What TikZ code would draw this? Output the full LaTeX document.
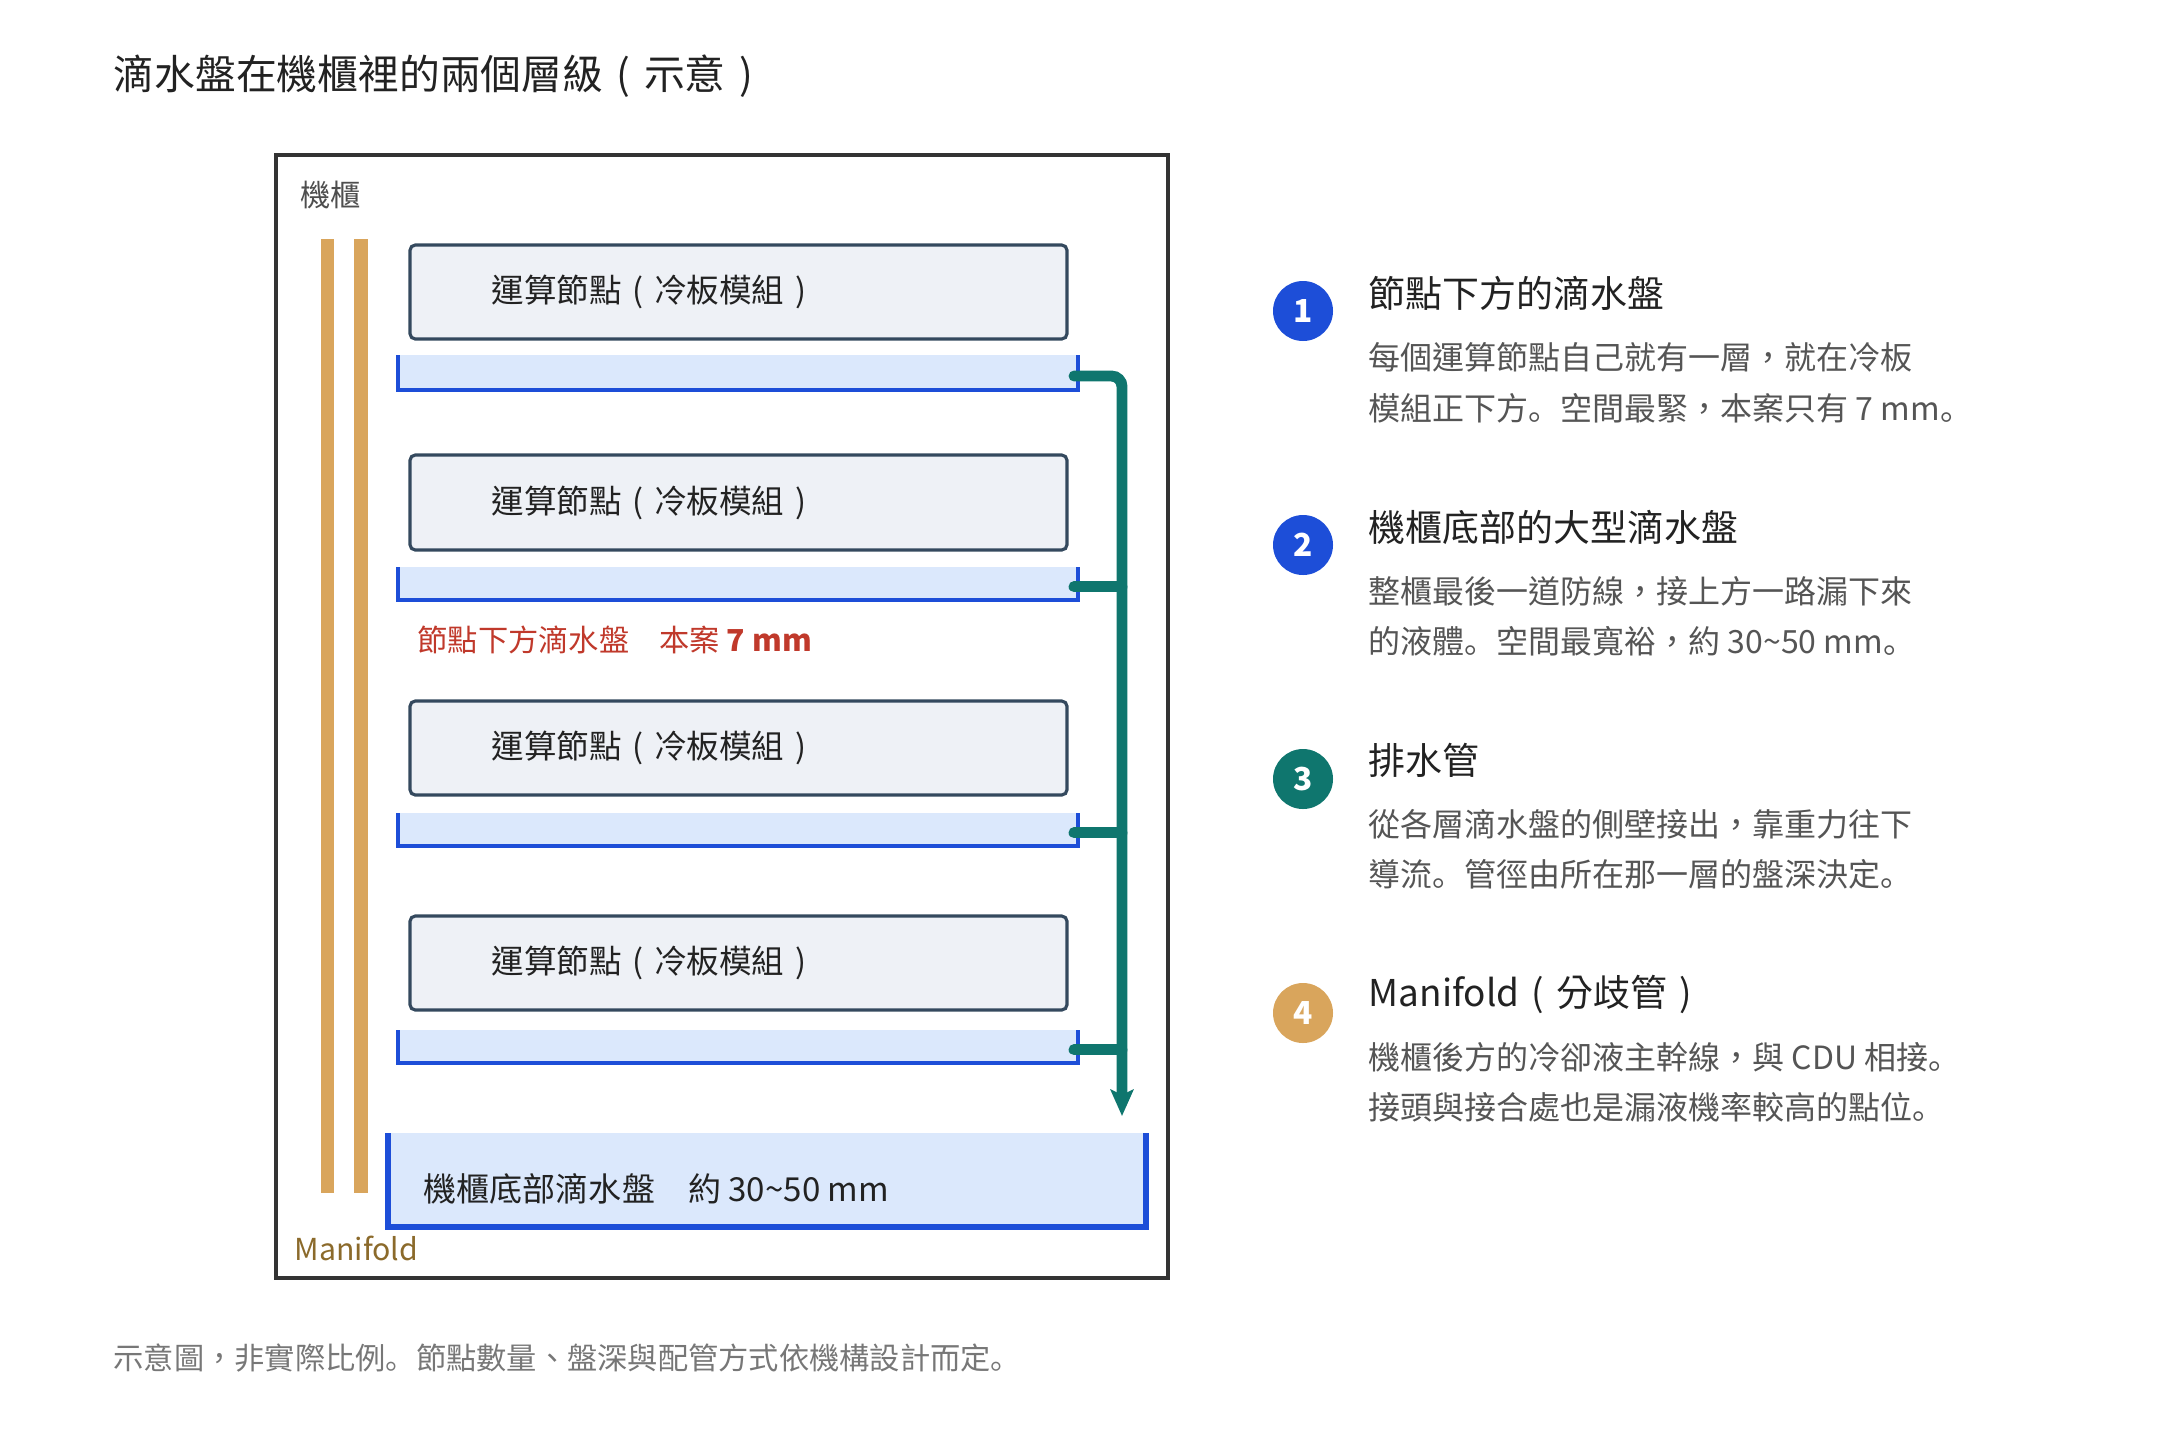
\documentclass[tikz,border=0pt]{standalone}
\usepackage{fontspec}
\setmainfont{Noto Sans CJK TC}
\newfontfamily\scfont{Noto Sans CJK SC}
\newcommand{\pd}{{\scfont 。}}
\newcommand{\lp}{\makebox[1em]{(}}
\newcommand{\rp}{\makebox[1em]{)}}
\usetikzlibrary{arrows.meta}
\definecolor{cabinet}{HTML}{333333}
\definecolor{nodefill}{HTML}{EEF1F6}
\definecolor{nodeline}{HTML}{34495E}
\definecolor{trayfill}{HTML}{DBE8FC}
\definecolor{trayline}{HTML}{1D4ED8}
\definecolor{drain}{HTML}{0F766E}
\definecolor{manif}{HTML}{D9A55C}
\definecolor{maniftext}{HTML}{8B6A2B}
\definecolor{redtext}{HTML}{C0392B}
\definecolor{darktext}{HTML}{222222}
\definecolor{bodytext}{HTML}{555555}
\definecolor{foot}{HTML}{777777}
\tikzset{
  x=0.01cm, y=-0.01cm,
  txt/.style={anchor=west, inner sep=0pt, text=darktext},
  computebox/.style={draw=nodeline, fill=nodefill, line width=0.9pt, rounded corners=1.5pt},
  traywall/.style={draw=trayline, line width=1.4pt},
  pipe/.style={draw=drain, line width=3.1pt, line cap=round},
  badge/.style={circle, minimum size=60*0.01cm, inner sep=0pt, text=white, font=\fontsize{9pt}{10pt}\selectfont\bfseries},
  head/.style={txt, font=\fontsize{10.5pt}{12pt}\selectfont},
  body/.style={txt, text=bodytext, font=\fontsize{9.1pt}{11pt}\selectfont},
}
\begin{document}
\begin{tikzpicture}
\useasboundingbox (0,0) rectangle (2167,1445);
% title
\node[txt, font=\fontsize{11.6pt}{13pt}\selectfont] (title) at (113,76) {滴水盤在機櫃裡的兩個層級\lp 示意\rp};
% cabinet
\draw[cabinet, line width=1.4pt] (276,155) rectangle (1168,1278);
\node[txt, text=darktext!80, font=\fontsize{8.6pt}{10pt}\selectfont] (cablabel) at (300,195) {機櫃};
% manifold bars
\fill[manif] (321,239) rectangle (334,1193);
\fill[manif] (354,239) rectangle (368,1193);
\node[txt, text=maniftext, font=\fontsize{8.6pt}{10pt}\selectfont] (maniflabel) at (294,1248) {Manifold};
% compute nodes
\foreach \t/\b [count=\i] in {245/339, 455/550, 701/795, 916/1010}{
  \draw[computebox] (410,\t) rectangle (1067,\b);
  \node[txt, font=\fontsize{9.25pt}{11pt}\selectfont] (node\i) at (491,{(\t+\b)/2}) {運算節點\lp 冷板模組\rp};
}
% trays
\foreach \t/\b [count=\i] in {355/390, 567/600, 813/846, 1030/1063}{
  \fill[trayfill] (398,\t) rectangle (1078,\b);
  \draw[traywall] (398,\t) -- (398,\b) -- (1078,\b) -- (1078,\t);
  \coordinate (tray\i) at (1074,{\t+0.6*(\b-\t)});
}
\node[txt, text=redtext, font=\fontsize{8.6pt}{10pt}\selectfont] (redlabel) at (417,640) {節點下方滴水盤　本案 \textbf{7 mm}};
% bottom tray
\fill[trayfill] (388,1133) rectangle (1146,1227);
\draw[trayline, line width=1.7pt] (388,1133) -- (388,1227) -- (1146,1227) -- (1146,1133);
\node[txt, font=\fontsize{9.4pt}{11pt}\selectfont] (bottomlabel) at (423,1189) {機櫃底部滴水盤　約 30\textasciitilde 50 mm};
% drain pipe
\coordinate (pipetop) at (1122,376);
\coordinate (pipeend) at (1122,1116);
\draw[pipe, rounded corners=3pt, -{Stealth[length=7.5pt, width=6.5pt, inset=1.5pt]}] (tray1) -- (tray1 -| pipetop) -- (pipeend);
\foreach \i in {2,3,4}{
  \draw[pipe] (tray\i) -- (tray\i -| pipetop);
}
% right list
\node[badge, fill=trayline] (b1) at (1303,311) {1};
\node[badge, fill=trayline] (b2) at (1303,545) {2};
\node[badge, fill=drain] (b3) at (1303,779) {3};
\node[badge, fill=manif] (b4) at (1303,1013) {4};
\node[head] (h1) at (1368,293) {節點下方的滴水盤};
\node[body] (p1a) at (1368,357) {每個運算節點自己就有一層，就在冷板};
\node[body] (p1b) at (1368,408) {模組正下方\pd 空間最緊，本案只有 7 mm\pd};
\node[head] (h2) at (1368,527) {機櫃底部的大型滴水盤};
\node[body] (p2a) at (1368,591) {整櫃最後一道防線，接上方一路漏下來};
\node[body] (p2b) at (1368,641) {的液體\pd 空間最寬裕，約 30\textasciitilde 50 mm\pd};
\node[head] (h3) at (1368,760) {排水管};
\node[body] (p3a) at (1368,824) {從各層滴水盤的側壁接出，靠重力往下};
\node[body] (p3b) at (1368,874) {導流\pd 管徑由所在那一層的盤深決定\pd};
\node[head] (h4) at (1368,994) {Manifold\lp 分歧管\rp};
\node[body] (p4a) at (1368,1057) {機櫃後方的冷卻液主幹線，與 CDU 相接\pd};
\node[body] (p4b) at (1368,1107) {接頭與接合處也是漏液機率較高的點位\pd};
% footnote
\node[txt, text=foot, font=\fontsize{8.6pt}{10pt}\selectfont] (footnote) at (113,1358) {示意圖，非實際比例\pd 節點數量、盤深與配管方式依機構設計而定\pd};
\end{tikzpicture}
\end{document}
